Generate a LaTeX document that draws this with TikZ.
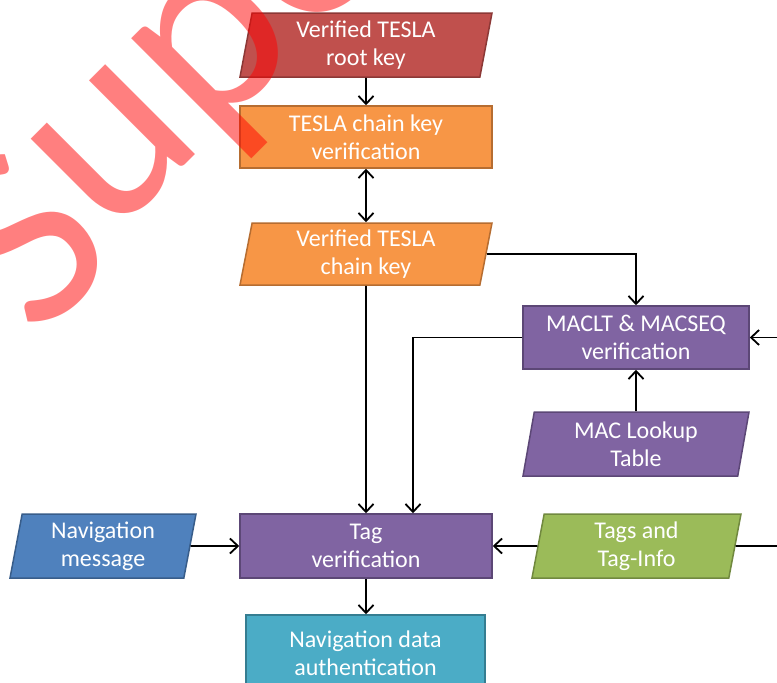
\documentclass[tikz,border=0pt]{standalone}
\usepackage{fontspec}
\setmainfont{Carlito}
\usetikzlibrary{shapes.geometric,arrows.meta}
\definecolor{redF}{HTML}{C0504D}\definecolor{redD}{HTML}{8C3836}
\definecolor{oraF}{HTML}{F79646}\definecolor{oraD}{HTML}{B66D31}
\definecolor{purF}{HTML}{8064A2}\definecolor{purD}{HTML}{5C4776}
\definecolor{bluF}{HTML}{4F81BD}\definecolor{bluD}{HTML}{385D8A}
\definecolor{grnF}{HTML}{9BBB59}\definecolor{grnD}{HTML}{71893F}
\definecolor{teaF}{HTML}{4BACC6}\definecolor{teaD}{HTML}{357D91}
\begin{document}
\begin{tikzpicture}[x=1pt,y=-1pt,
  fcbox/.style={draw, line width=1.5pt, text=white, align=center,
    font=\fontsize{24}{28}\selectfont, inner sep=2pt},
  rectbox/.style={fcbox, rectangle},
  parabox/.style={fcbox, trapezium, trapezium left angle=77,
    trapezium right angle=103, trapezium stretches body},
  arr/.style={line width=1.8pt, -{Straight Barb[length=8pt,width=15pt]}},
  dbl/.style={line width=1.8pt, {Straight Barb[length=8pt,width=15pt]}-{Straight Barb[length=8pt,width=15pt]}},
  plain/.style={line width=1.8pt},
  watermark/.style={rotate=45, anchor=base west, inner sep=0pt, text=red,
    opacity=0.5, font=\fontsize{266}{266}\selectfont}]
\useasboundingbox (0,0) rectangle (777,683);
\clip (0,0) rectangle (777,683);
\fill[white] (0,0) rectangle (777,683);

\node[parabox, fill=redF, draw=redD, minimum width=252pt, minimum height=64pt] (root) at (366,45) {Verified TESLA\\root key};
\node[rectbox, fill=oraF, draw=oraD, minimum width=252pt, minimum height=62pt] (chainver) at (366,137) {TESLA chain key\\verification};
\node[parabox, fill=oraF, draw=oraD, minimum width=252pt, minimum height=62pt] (chainkey) at (366,254) {Verified TESLA\\chain key};
\node[rectbox, fill=purF, draw=purD, minimum width=226pt, minimum height=63pt] (maclt) at (636,337.5) {MACLT \& MACSEQ\\verification};
\node[parabox, fill=purF, draw=purD, minimum width=226pt, minimum height=64pt] (lookup) at (636,444) {MAC Lookup\\Table};
\node[parabox, fill=grnF, draw=grnD, minimum width=209pt, minimum height=64pt] (tags) at (636.5,546) {Tags and\\Tag-Info};
\node[rectbox, fill=purF, draw=purD, minimum width=252pt, minimum height=64pt] (tagver) at (366,546) {Tag\\verification};
\node[parabox, fill=bluF, draw=bluD, minimum width=186pt, minimum height=64pt] (navmsg) at (103,546) {Navigation\\message};
\node[rectbox, fill=teaF, draw=teaD, minimum width=239pt, minimum height=77pt] (navdata) at (365.5,653.5) {Navigation data\\authentication};

\coordinate (inR) at (790,337.5);
\coordinate (inT) at (790,546);

\draw[arr] (root) -- (chainver);
\draw[dbl] (chainver) -- (chainkey);
\draw[arr] (chainkey) -- (tagver);
\draw[arr] (chainkey.east) -| (maclt.north);
\draw[arr] (lookup) -- (maclt);
\draw[arr] (maclt.west) -| ([xshift=47pt]tagver.north);
\draw[arr] (inR) -- (maclt.east);
\draw[plain] (inT) -- (tags.east);
\draw[arr] (tags) -- (tagver);
\draw[arr] (navmsg) -- (tagver);
\draw[arr] (tagver.south) -- (tagver.south |- navdata.north);

\node[watermark] (wm) at (23,327) {\raisebox{-20pt}{S}upe};
\end{tikzpicture}
\end{document}
